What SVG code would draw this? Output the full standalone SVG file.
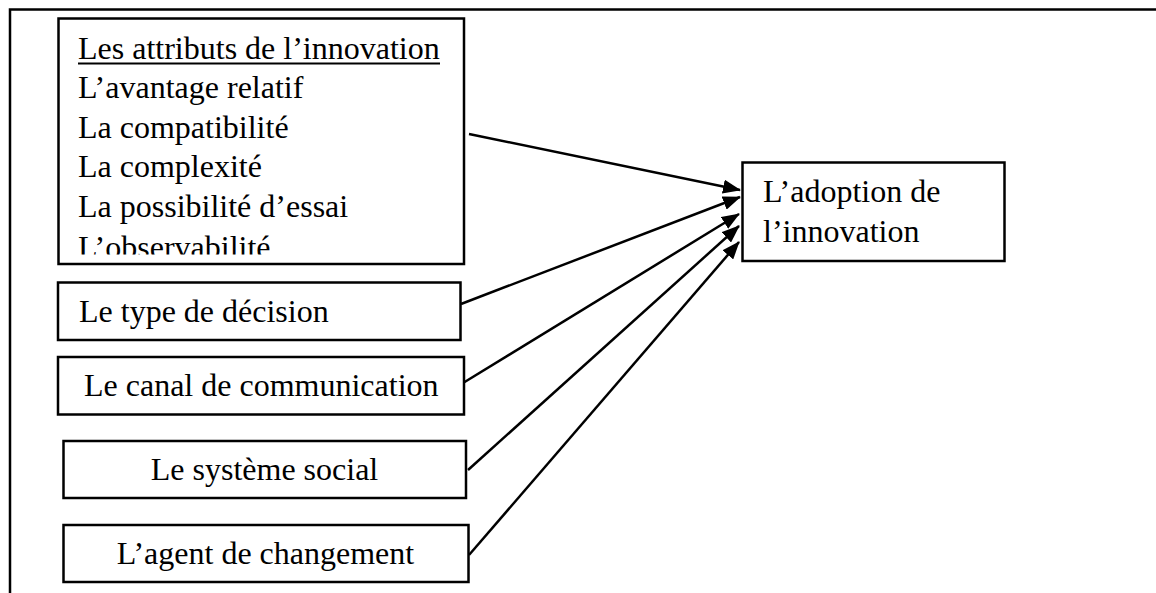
<svg xmlns="http://www.w3.org/2000/svg" width="1156" height="593" viewBox="0 0 1156 593">
<style>
.box{fill:#fff;stroke:#000;stroke-width:2.5}
.t{font-family:"Liberation Serif","Times New Roman",serif;font-size:32px;fill:#000}
.c{stroke:#000;stroke-width:2.5;fill:none;marker-end:url(#ah)}
</style>
<defs>
<marker id="ah" markerUnits="userSpaceOnUse" markerWidth="18" markerHeight="14" refX="17" refY="7" orient="auto">
<path d="M0,0 L18,7 L0,14 z" fill="#000"/>
</marker>
<clipPath id="clipA"><rect x="58" y="18" width="406" height="236.5"/></clipPath>
</defs>
<rect width="1156" height="593" fill="#fff"/>
<g id="frame">
<path d="M10,593 L10,9.5 L1156,9.5" stroke="#000" stroke-width="2.5" fill="none"/>
</g>
<g id="connectors">
<line class="c" x1="469" y1="134" x2="740" y2="190"/>
<line class="c" x1="461" y1="304" x2="740" y2="197"/>
<line class="c" x1="463" y1="383" x2="739" y2="214"/>
<line class="c" x1="468" y1="470" x2="739" y2="226"/>
<line class="c" x1="469" y1="555" x2="739" y2="242"/>
</g>
<g id="attributs">
<rect class="box" x="58.5" y="18.5" width="405.5" height="245.5"/>
<g clip-path="url(#clipA)">
<text class="t" x="78" y="59">Les attributs de l’innovation</text>
<line x1="78" y1="63.5" x2="440" y2="63.5" stroke="#000" stroke-width="1.8"/>
<text class="t" x="78" y="98">L’avantage relatif</text>
<text class="t" x="78" y="137.5">La compatibilité</text>
<text class="t" x="78" y="177">La complexité</text>
<text class="t" x="78" y="216.5">La possibilité d’essai</text>
<text class="t" x="78" y="257.5">L’observabilité</text>
</g>
</g>
<g id="decision">
<rect class="box" x="58" y="282.5" width="402.5" height="57.5"/>
<text class="t" x="79" y="321.5">Le type de décision</text>
</g>
<g id="canal">
<rect class="box" x="58" y="357" width="406" height="57.5"/>
<text class="t" x="84" y="396">Le canal de communication</text>
</g>
<g id="social">
<rect class="box" x="63.5" y="441" width="402.5" height="57"/>
<text class="t" x="264.5" y="480" text-anchor="middle">Le système social</text>
</g>
<g id="agent">
<rect class="box" x="63.5" y="525" width="405" height="57"/>
<text class="t" x="265.5" y="564" text-anchor="middle">L’agent de changement</text>
</g>
<g id="adoption">
<rect class="box" x="742.5" y="162.5" width="262" height="98.5"/>
<text class="t" x="763" y="202">L’adoption de</text>
<text class="t" x="763" y="241.5">l’innovation</text>
</g>
</svg>
